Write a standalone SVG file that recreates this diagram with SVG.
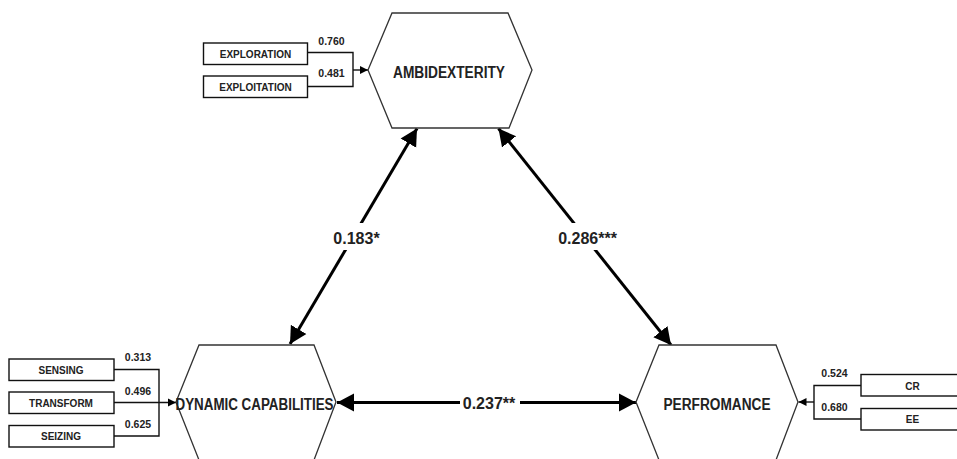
<svg xmlns="http://www.w3.org/2000/svg" width="957" height="459" viewBox="0 0 957 459">
<style>
.hex{fill:#fff;stroke:#333;stroke-width:1.3}
.box{fill:#fff;stroke:#111;stroke-width:1.4}
.ht{font-family:"Liberation Sans",Arial,sans-serif;font-weight:bold;font-size:16px;fill:#222;text-anchor:middle}
.bt{font-family:"Liberation Sans",Arial,sans-serif;font-weight:bold;font-size:10px;fill:#222;text-anchor:middle}
.nt{font-family:"Liberation Sans",Arial,sans-serif;font-weight:bold;font-size:10.5px;fill:#222;text-anchor:middle}
.lt{font-family:"Liberation Sans",Arial,sans-serif;font-weight:bold;font-size:16px;fill:#222;text-anchor:middle}
.thin{fill:none;stroke:#111;stroke-width:1.4}
.thick{fill:none;stroke:#000;stroke-width:3}
</style>
<defs>
<marker id="big" markerUnits="userSpaceOnUse" markerWidth="18" markerHeight="20" refX="17" refY="9" orient="auto-start-reverse" viewBox="0 0 18 18">
<path d="M0,0 L17,9 L0,18 Z" fill="#000"/>
</marker>
<marker id="small" markerUnits="userSpaceOnUse" markerWidth="9" markerHeight="9" refX="8" refY="4" orient="auto" viewBox="0 0 9 8">
<path d="M0,0 L8,4 L0,8 Z" fill="#000"/>
</marker>
</defs>
<rect width="957" height="459" fill="#fff"/>

<g id="connectors">
<path class="thin" d="M307,52.5 H353 V86.5 H307"/>
<line class="thin" x1="353" y1="70" x2="368" y2="70" marker-end="url(#small)"/>
<path class="thin" d="M114,369.5 H159 V436 H114"/>
<line class="thin" x1="114" y1="402.5" x2="176" y2="402.5" marker-end="url(#small)"/>
<path class="thin" d="M861,385.5 H814 V419 H861"/>
<line class="thin" x1="814" y1="402" x2="798.5" y2="402" marker-end="url(#small)"/>
<line class="thick" x1="290" y1="344" x2="417" y2="128.5" marker-start="url(#big)" marker-end="url(#big)"/>
<line class="thick" x1="498.5" y1="128.5" x2="671" y2="345" marker-start="url(#big)" marker-end="url(#big)"/>
<line class="thick" x1="337" y1="402.5" x2="636" y2="402.5" marker-start="url(#big)" marker-end="url(#big)"/>
<rect x="331" y="223" width="52" height="27" fill="#fff"/>
<text class="lt" x="356.5" y="243.5">0.183*</text>
<rect x="556" y="223" width="63" height="27" fill="#fff"/>
<text class="lt" x="587.5" y="243.5">0.286***</text>
<rect x="460" y="391" width="60" height="24" fill="#fff"/>
<text class="lt" x="489" y="408.5">0.237**</text>
<text class="nt" x="331.5" y="44.5">0.760</text>
<text class="nt" x="331.5" y="77">0.481</text>
<text class="nt" x="138" y="361">0.313</text>
<text class="nt" x="138" y="394.5">0.496</text>
<text class="nt" x="138" y="427.5">0.625</text>
<text class="nt" x="834.5" y="377">0.524</text>
<text class="nt" x="834.5" y="411">0.680</text>
</g>

<g id="ambidexterity">
<polygon class="hex" points="392,13 508,13 532,70 509,128 392,128 368,70"/>
<text class="ht" x="449" y="77.5" textLength="112" lengthAdjust="spacingAndGlyphs">AMBIDEXTERITY</text>
</g>
<g id="dynamic-capabilities">
<polygon class="hex" points="199,345 314,345 336,402 314,460 199,460 176,402"/>
<text class="ht" x="254.5" y="410" textLength="158" lengthAdjust="spacingAndGlyphs">DYNAMIC CAPABILITIES</text>
</g>
<g id="performance">
<polygon class="hex" points="659,345 776,345 798,402 776,460 659,460 636,402"/>
<text class="ht" x="717" y="410" textLength="107" lengthAdjust="spacingAndGlyphs">PERFROMANCE</text>
</g>

<g id="exploration">
<rect class="box" x="203.5" y="43" width="104" height="21.5"/>
<text class="bt" x="255.5" y="57.5">EXPLORATION</text>
</g>
<g id="exploitation">
<rect class="box" x="203.5" y="76" width="104" height="21.5"/>
<text class="bt" x="255.5" y="90.5">EXPLOITATION</text>
</g>
<g id="sensing">
<rect class="box" x="9" y="359" width="105" height="21.5"/>
<text class="bt" x="61" y="373.5">SENSING</text>
</g>
<g id="transform">
<rect class="box" x="9" y="392" width="105" height="21.5"/>
<text class="bt" x="61" y="406.5">TRANSFORM</text>
</g>
<g id="seizing">
<rect class="box" x="9" y="425.5" width="105" height="21.5"/>
<text class="bt" x="61" y="440">SEIZING</text>
</g>
<g id="cr">
<rect class="box" x="861" y="374.5" width="103" height="21.5"/>
<text class="bt" x="912.5" y="389.5">CR</text>
</g>
<g id="ee">
<rect class="box" x="861" y="408.5" width="103" height="21.5"/>
<text class="bt" x="912.5" y="423">EE</text>
</g>
</svg>
